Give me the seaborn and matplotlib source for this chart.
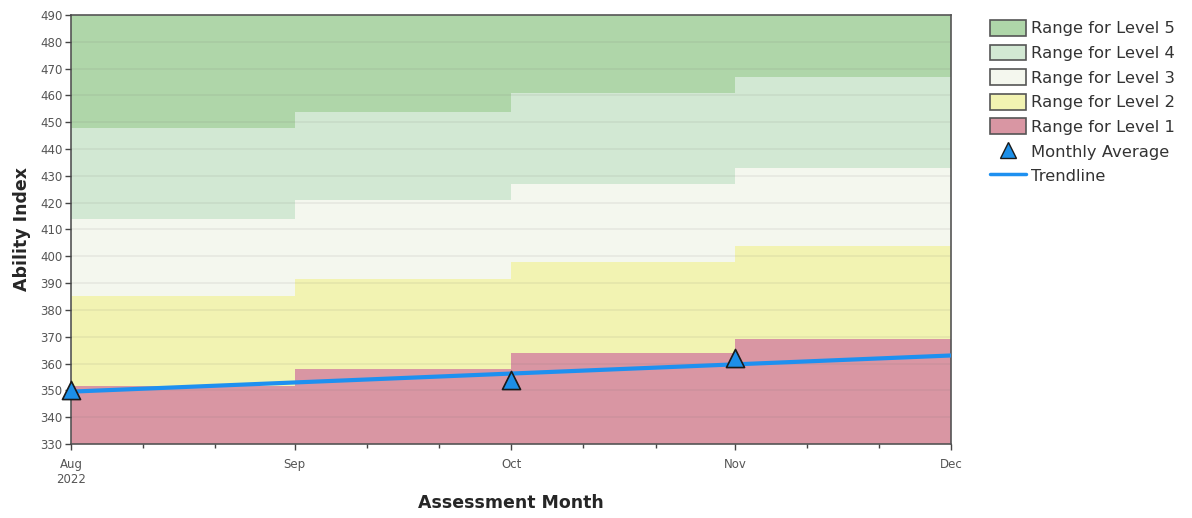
import pandas as pd
import numpy as np
import seaborn as sns
import matplotlib.pyplot as plt
import matplotlib.dates as mdates
from matplotlib.patches import Patch
from matplotlib.lines import Line2D

# band edges change at the start of each month
band_months = ["2022-08-01", "2022-09-01", "2022-10-01", "2022-11-01", "2022-12-01"]
level1_top = [351.5, 358, 364, 369, 369]
level2_top = [385, 391.5, 398, 404, 404]
level3_top = [414, 421, 427, 433, 433]
level4_top = [448, 454, 461, 467, 467]
scale_min = 330
scale_max = 490

avg_months = ["2022-08-01", "2022-10-01", "2022-11-01"]
avg_values = [350, 354, 362]

trend_months = ["2022-08-01", "2022-12-01"]
trend_values = [349.5, 363]

level_names = ["Range for Level 5", "Range for Level 4", "Range for Level 3",
               "Range for Level 2", "Range for Level 1"]
level_colors = ["#afd6a9", "#d2e8d3", "#f4f7ee", "#f2f3b2", "#d996a3"]

sns.set_theme(style="white")
plt.rcParams['font.family'] = ['DejaVu Sans']

dates = pd.to_datetime(band_months)
bounds = [np.full(len(dates), scale_max), level4_top, level3_top, level2_top,
          level1_top, np.full(len(dates), scale_min)]

fig = plt.figure(figsize=(11.92, 5.18), dpi=100)
ax = fig.add_axes([0.0596, 0.143, 0.7386, 0.828])

for i, color in enumerate(level_colors):
    ax.fill_between(dates, bounds[i + 1], bounds[i], step="post",
                    color=color, lw=0, zorder=0)

trend_df = pd.DataFrame({"month": pd.to_datetime(trend_months), "value": trend_values})
avg_df = pd.DataFrame({"month": pd.to_datetime(avg_months), "value": avg_values})

sns.lineplot(data=trend_df, x="month", y="value", ax=ax, color="#1e90f0",
             lw=3, zorder=4)
sns.scatterplot(data=avg_df, x="month", y="value", ax=ax, marker="^", s=170,
                color="#1c8fe8", edgecolor="#1a1a1a", linewidth=1.2, zorder=5,
                clip_on=False)

ax.set_xlim(dates[0], dates[-1])
ax.set_ylim(scale_min, scale_max)
ax.set_yticks(np.arange(scale_min, scale_max + 1, 10))

ax.set_axisbelow(False)
ax.grid(axis="y", color="#6a6a6a", alpha=0.1, lw=1.2)
ax.grid(axis="x", visible=False)

ax.xaxis.set_major_locator(mdates.MonthLocator())
ax.xaxis.set_minor_locator(mdates.DayLocator(bymonthday=[11, 21]))
ax.set_xticks(dates)
ax.set_xticklabels(["Aug\n2022", "Sep", "Oct", "Nov", "Dec"])
ax.tick_params(axis="both", which="major", direction="out", length=4, width=1,
               color="#444444", labelsize=8.5, labelcolor="#555555", pad=2,
               bottom=True, left=True)
ax.tick_params(axis="x", which="major", pad=6)
ax.tick_params(axis="x", which="minor", direction="out", length=3, width=1,
               color="#444444", bottom=True)

for sp in ax.spines.values():
    sp.set_color("#555555")
    sp.set_linewidth(1.2)

ax.set_xlabel("Assessment Month", fontsize=12.5, fontweight="bold", labelpad=6)
ax.set_ylabel("Ability Index", fontsize=12.5, fontweight="bold", labelpad=7)

handles = [Patch(facecolor=c, edgecolor="#555555", lw=1.2) for c in level_colors]
handles.append(Line2D([], [], marker="^", ls="none", markersize=11,
                      markerfacecolor="#1c8fe8", markeredgecolor="#1a1a1a"))
handles.append(Line2D([], [], color="#1e90f0", lw=2.5))
labels = level_names + ["Monthly Average", "Trendline"]
fig.legend(handles, labels, loc="upper left", bbox_to_anchor=(0.818, 0.99),
           frameon=False, fontsize=11.8, labelcolor="#333333",
           handlelength=2.2, handleheight=1.1, handletextpad=0.3,
           labelspacing=0.5)

fig.savefig("out.png", dpi=100)
